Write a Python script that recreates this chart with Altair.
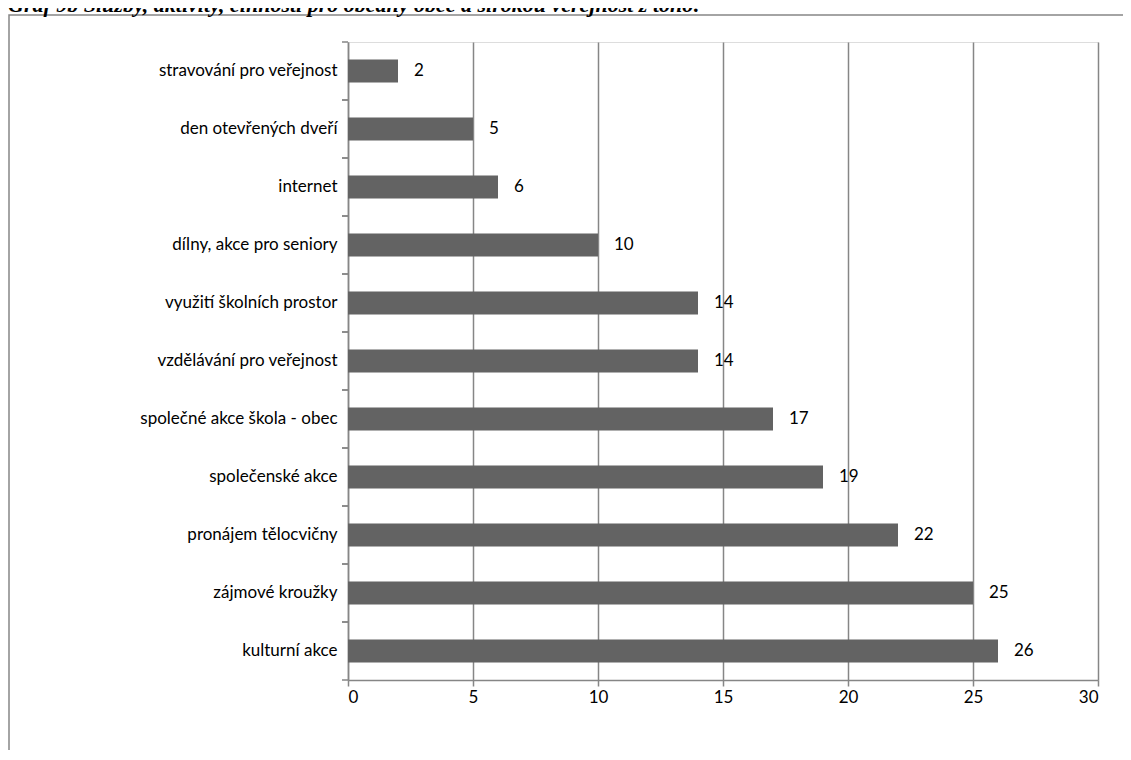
import altair as alt
import pandas as pd

categories = [
    "stravování pro veřejnost",
    "den otevřených dveří",
    "internet",
    "dílny, akce pro seniory",
    "využití školních prostor",
    "vzdělávání pro veřejnost",
    "společné akce škola - obec",
    "společenské akce",
    "pronájem tělocvičny",
    "zájmové kroužky",
    "kulturní akce",
]
values = [2, 5, 6, 10, 14, 14, 17, 19, 22, 25, 26]
x_ticks = [0, 5, 10, 15, 20, 25, 30]
title_text = "Graf 9b Služby, aktivity, činnosti pro občany obce a širokou veřejnost z toho:"

df = pd.DataFrame({"cat": categories, "v": values})

FONT = "Lato"
GRAY = "#868686"
BAR = "#636363"

yscale = alt.Scale(domain=categories, paddingInner=0, paddingOuter=0)
xscale = alt.Scale(domain=[0, 30], nice=False)

base = alt.Chart(df)

bars = base.mark_bar(size=23, color=BAR).encode(
    x=alt.X("v:Q", scale=xscale,
            axis=alt.Axis(values=x_ticks, title=None, grid=True, gridColor=GRAY,
                          gridWidth=1.5, domainWidth=1.5, tickWidth=1.5,
                          domainColor=GRAY, tickColor=GRAY, tickSize=6,
                          labelPadding=3, labelFont=FONT, labelFontSize=17,
                          labelColor="black")),
    y=alt.Y("cat:N", sort=categories, scale=yscale,
            axis=alt.Axis(title=None, ticks=False, tickSize=0, domainColor=GRAY,
                          domainWidth=1.5,
                          labelPadding=11, labelFont=FONT, labelFontSize=17,
                          labelColor="black", labelLimit=400)),
)

labels = base.mark_text(align="left", baseline="middle", dx=16, font=FONT,
                        fontSize=17, color="black").encode(
    x=alt.X("v:Q", scale=xscale),
    y=alt.Y("cat:N", sort=categories, scale=yscale),
    text="v:Q",
)

ticks_top = base.mark_rule(color=GRAY, strokeWidth=1.5).encode(
    y=alt.Y("cat:N", sort=categories, scale=yscale, bandPosition=0),
    x=alt.value(-6), x2=alt.value(0),
)
ticks_bot = base.mark_rule(color=GRAY, strokeWidth=1.5).encode(
    y=alt.Y("cat:N", sort=categories, scale=yscale, bandPosition=1),
    x=alt.value(-6), x2=alt.value(0),
)

title_df = pd.DataFrame({"t": [title_text]})
title = alt.Chart(title_df).mark_text(
    align="left", baseline="alphabetic", font="Liberation Serif",
    fontSize=22, fontWeight="bold", fontStyle="italic", color="black",
).encode(x=alt.value(-340), y=alt.value(-30), text="t:N")

border = alt.Chart(title_df).mark_rect(fill=None, stroke=GRAY, strokeWidth=1.5).encode(
    x=alt.value(-339), y=alt.value(-27), x2=alt.value(900), y2=alt.value(900),
)

chart = alt.layer(border, bars, labels, ticks_top, ticks_bot, title).properties(
    width=750, height=638,
    padding={"left": 340, "top": 34, "right": 25, "bottom": 70},
    autosize=alt.AutoSizeParams(type="none"),
).configure_view(stroke=None).configure(background="white")

chart.save("out.html", embed_options={"renderer": "svg", "actions": False})
